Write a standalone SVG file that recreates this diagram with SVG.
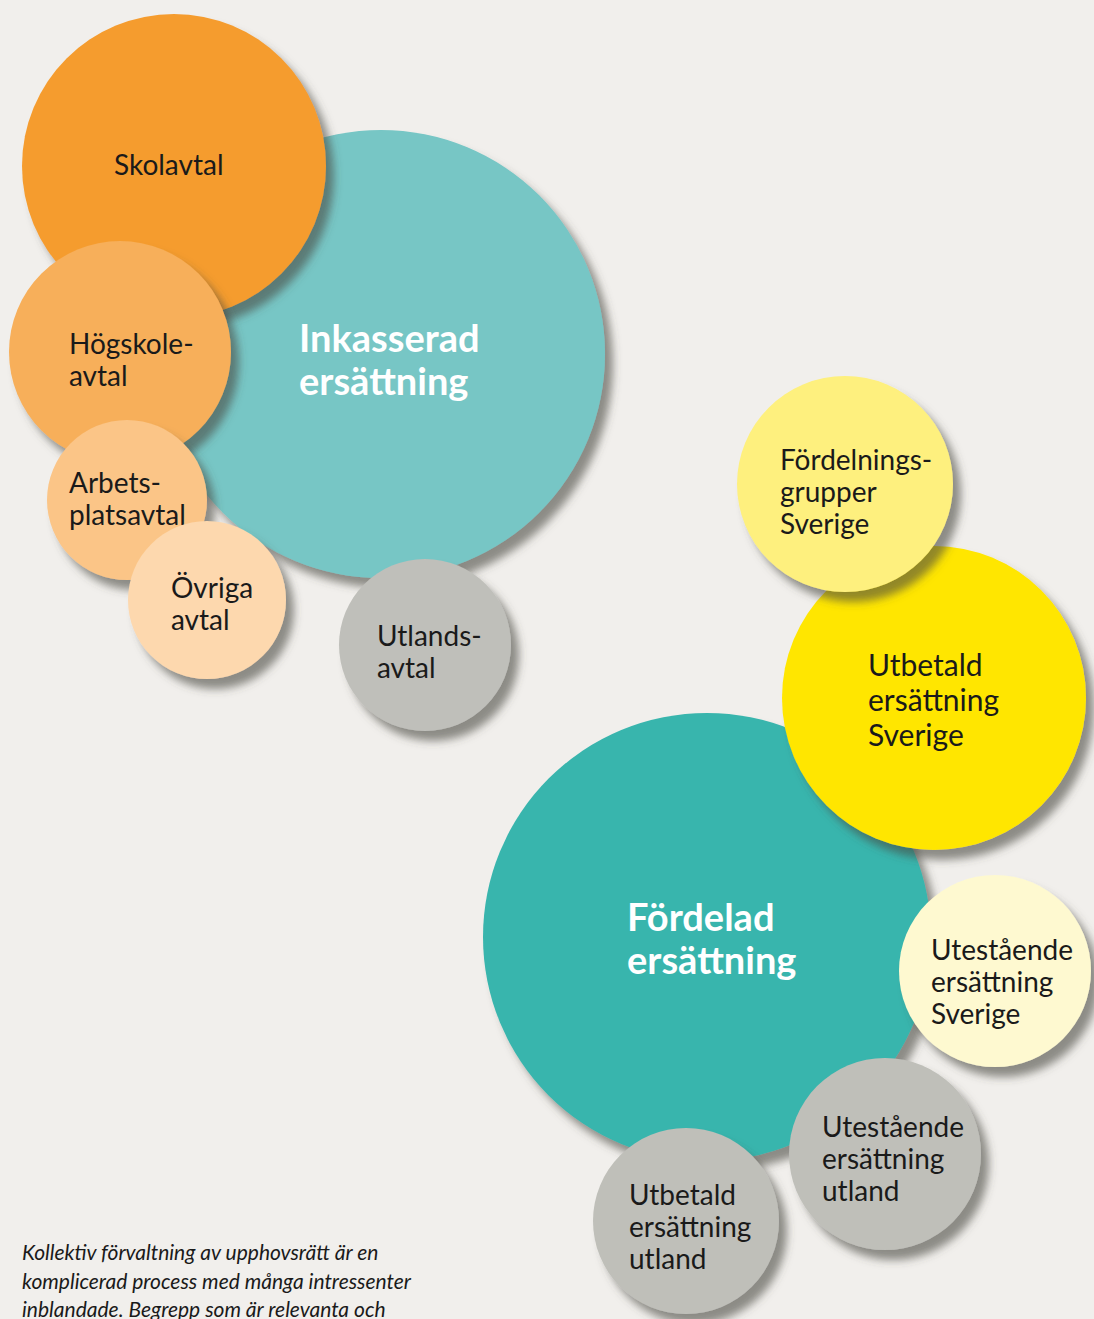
<svg xmlns="http://www.w3.org/2000/svg" width="1094" height="1319" viewBox="0 0 1094 1319">
<defs>
<filter id="sh" x="-20%" y="-20%" width="150%" height="150%">
<feDropShadow dx="8" dy="10" stdDeviation="4.5" flood-color="#46463f" flood-opacity="0.6"/>
</filter>
<style>
.c{filter:url(#sh)}
.t{font-family:Lato,"Noto Sans","Liberation Sans",sans-serif;font-size:28px;fill:#1a1a1a}
.b{font-family:Lato,"Noto Sans","Liberation Sans",sans-serif;font-size:38px;font-weight:bold;fill:#ffffff}
.n{font-family:Lato,"Noto Sans","Liberation Sans",sans-serif;font-size:21px;font-style:italic;fill:#1a1a1a}
</style>
</defs>
<rect width="1094" height="1319" fill="#F1EFEC"/>

<g id="inkasserad">
<circle class="c" cx="381" cy="354" r="224" fill="#77C6C5"/>
<text class="b" x="299" y="352">Inkasserad</text>
<text class="b" x="299" y="395">ersättning</text>
</g>
<g id="skolavtal">
<circle class="c" cx="174" cy="166" r="152" fill="#F59C2F"/>
<text class="t" x="114" y="175">Skolavtal</text>
</g>
<g id="hogskoleavtal">
<circle class="c" cx="120" cy="352" r="111" fill="#F7AF5A"/>
<text class="t" x="69" y="354">Högskole-</text>
<text class="t" x="69" y="386">avtal</text>
</g>
<g id="arbetsplatsavtal">
<circle class="c" cx="127" cy="500" r="80" fill="#FBC587"/>
<text class="t" x="69" y="493">Arbets-</text>
<text class="t" x="69" y="525">platsavtal</text>
</g>
<g id="ovriga">
<circle class="c" cx="207" cy="600" r="79" fill="#FDD8AE"/>
<text class="t" x="171" y="598">Övriga</text>
<text class="t" x="171" y="630">avtal</text>
</g>
<g id="utlandsavtal">
<circle class="c" cx="425" cy="645" r="86" fill="#BFBFBA"/>
<text class="t" x="377" y="646">Utlands-</text>
<text class="t" x="377" y="678">avtal</text>
</g>

<g id="fordelad">
<circle class="c" cx="707" cy="937" r="224" fill="#39B5AD"/>
<text class="b" x="627" y="931">Fördelad</text>
<text class="b" x="627" y="974">ersättning</text>
</g>
<g id="utbetald-sverige">
<circle class="c" cx="934" cy="698" r="152" fill="#FFE600"/>
<text class="t" x="868" y="676" style="font-size:30px">Utbetald</text>
<text class="t" x="868" y="711" style="font-size:30px">ersättning</text>
<text class="t" x="868" y="746" style="font-size:30px">Sverige</text>
</g>
<g id="fordelningsgrupper">
<circle class="c" cx="845" cy="484" r="108" fill="#FEF07E"/>
<text class="t" x="780" y="470">Fördelnings-</text>
<text class="t" x="780" y="502">grupper</text>
<text class="t" x="780" y="534">Sverige</text>
</g>
<g id="utestaende-sverige">
<circle class="c" cx="995" cy="971" r="96" fill="#FEF9D0"/>
<text class="t" x="931" y="960">Utestående</text>
<text class="t" x="931" y="992">ersättning</text>
<text class="t" x="931" y="1024">Sverige</text>
</g>
<g id="utestaende-utland">
<circle class="c" cx="885" cy="1154" r="96" fill="#BFBFB9"/>
<text class="t" x="822" y="1137">Utestående</text>
<text class="t" x="822" y="1169">ersättning</text>
<text class="t" x="822" y="1201">utland</text>
</g>
<g id="utbetald-utland">
<circle class="c" cx="686" cy="1221" r="93" fill="#BFBFB9"/>
<text class="t" x="629" y="1205">Utbetald</text>
<text class="t" x="629" y="1237">ersättning</text>
<text class="t" x="629" y="1269">utland</text>
</g>

<g id="caption">
<text class="n" x="22" y="1260">Kollektiv förvaltning av upphovsrätt är en</text>
<text class="n" x="22" y="1289">komplicerad process med många intressenter</text>
<text class="n" x="22" y="1317">inblandade. Begrepp som är relevanta och</text>
</g>
</svg>
